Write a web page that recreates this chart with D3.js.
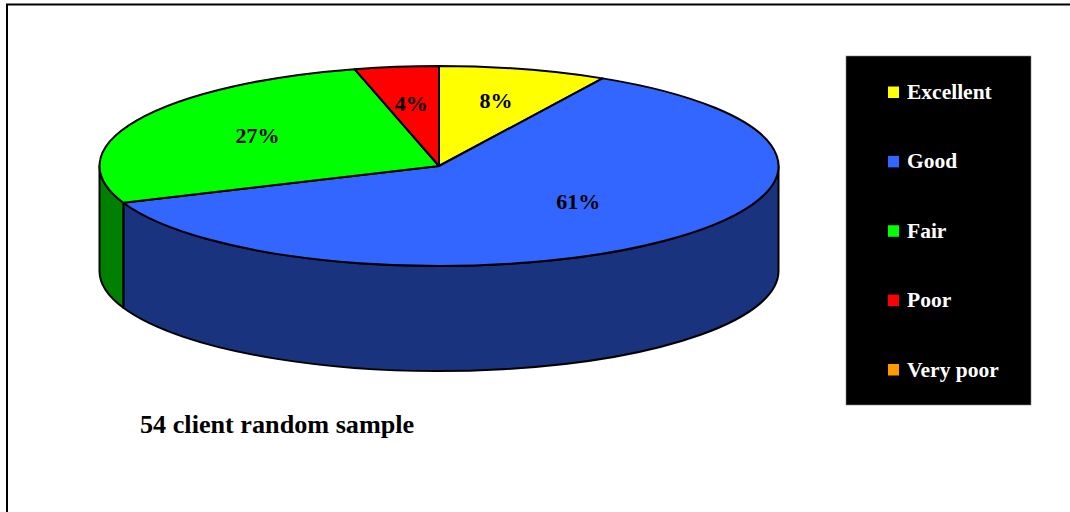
<!DOCTYPE html>
<html>
<head>
<meta charset="utf-8">
<script src="https://cdn.jsdelivr.net/npm/d3@7/dist/d3.min.js"></script>
<style>
  html, body { margin: 0; padding: 0; background: #fff; }
  svg { display: block; }
  text { font-family: "Liberation Serif", "Times New Roman", serif; font-weight: bold; }
</style>
</head>
<body>
<svg id="chart" width="1070" height="512"></svg>
<script>
// Client satisfaction ratings
const categories = ["Excellent", "Good", "Fair", "Poor", "Very poor"];
const percentages = [8, 61, 27, 4, 0];
const topColors = ["#ffff00", "#3366ff", "#00ff00", "#ff0000", "#ff9900"];
const sideColors = ["#7f7f00", "#19337f", "#007f00", "#7f0000", "#7f4c00"];
const caption = "54 client random sample";

// Tilted disc geometry
const cx = 439, cy = 166, rx = 339.5, ry = 100, depth = 105;
const svg = d3.select("#chart");

// Outer frame, open past the right and bottom edges of the page
svg.append("rect")
  .attr("x", 7).attr("y", 4.5).attr("width", 1100).attr("height", 560)
  .attr("fill", "#fff").attr("stroke", "#000").attr("stroke-width", 2);

const slices = d3.pie().sort(null).value(d => d)(percentages)
  .map((s, i) => ({ ...s, i }));

// Angles run clockwise from twelve o'clock
const px = a => cx + rx * Math.sin(a);
const py = (a, drop = 0) => cy - ry * Math.cos(a) + drop;

// Vertical wall: only the front half of the rim (90° to 270°) is visible
const wallPath = (a0, a1) => {
  const large = a1 - a0 > Math.PI ? 1 : 0;
  return `M${px(a0)},${py(a0)}` +
    `A${rx},${ry} 0 ${large} 1 ${px(a1)},${py(a1)}` +
    `L${px(a1)},${py(a1, depth)}` +
    `A${rx},${ry} 0 ${large} 0 ${px(a0)},${py(a0, depth)}Z`;
};

const walls = slices
  .map(s => ({
    i: s.i,
    a0: Math.max(s.startAngle, Math.PI / 2),
    a1: Math.min(s.endAngle, Math.PI * 1.5)
  }))
  .filter(w => w.a1 > w.a0);

svg.append("g").selectAll("path").data(walls).join("path")
  .attr("d", w => wallPath(w.a0, w.a1))
  .attr("fill", w => sideColors[w.i])
  .attr("stroke", "#000").attr("stroke-width", 2).attr("stroke-linejoin", "round");

// Top face wedges
const wedgePath = s => {
  const large = s.endAngle - s.startAngle > Math.PI ? 1 : 0;
  return `M${cx},${cy}L${px(s.startAngle)},${py(s.startAngle)}` +
    `A${rx},${ry} 0 ${large} 1 ${px(s.endAngle)},${py(s.endAngle)}Z`;
};

svg.append("g").selectAll("path").data(slices.filter(s => s.value > 0)).join("path")
  .attr("d", wedgePath)
  .attr("fill", s => topColors[s.i])
  .attr("stroke", "#000").attr("stroke-width", 2).attr("stroke-linejoin", "round");

// Percent labels: radial placement per wedge, with a small vertical lift
const labelRadius = [0.675, 0.62, 0.6, 0.655, 0];
const labelLift = [0, 11.5, 3, -2, 0];
const midAngle = s => (s.startAngle + s.endAngle) / 2;
svg.append("g").selectAll("text").data(slices.filter(s => s.value > 0)).join("text")
  .attr("x", s => cx + labelRadius[s.i] * rx * Math.sin(midAngle(s)))
  .attr("y", s => cy - labelRadius[s.i] * ry * Math.cos(midAngle(s)) - labelLift[s.i])
  .attr("dy", "0.35em")
  .attr("text-anchor", "middle")
  .attr("font-size", 22)
  .attr("fill", "#000")
  .text(s => `${s.value}%`);

// Legend panel
const legendX = 846, legendY = 56, legendW = 185, legendH = 349;
svg.append("rect")
  .attr("x", legendX).attr("y", legendY).attr("width", legendW).attr("height", legendH)
  .attr("fill", "#000").attr("stroke", "#888").attr("stroke-width", 0.6);

const rowY = d3.scalePoint().domain(categories).range([92, 369.5]);
const rows = svg.append("g").selectAll("g").data(categories).join("g")
  .attr("transform", d => `translate(0,${rowY(d)})`);
rows.append("rect")
  .attr("x", 888).attr("y", -5.5).attr("width", 11).attr("height", 11.5)
  .attr("fill", (d, i) => topColors[i]);
rows.append("text")
  .attr("x", 907).attr("dy", "0.33em")
  .attr("font-size", 21.5)
  .attr("fill", "#fff")
  .text(d => d);

// Sample size note
svg.append("text")
  .attr("x", 140).attr("y", 433)
  .attr("font-size", 26.2)
  .attr("fill", "#000")
  .text(caption);
</script>
</body>
</html>
